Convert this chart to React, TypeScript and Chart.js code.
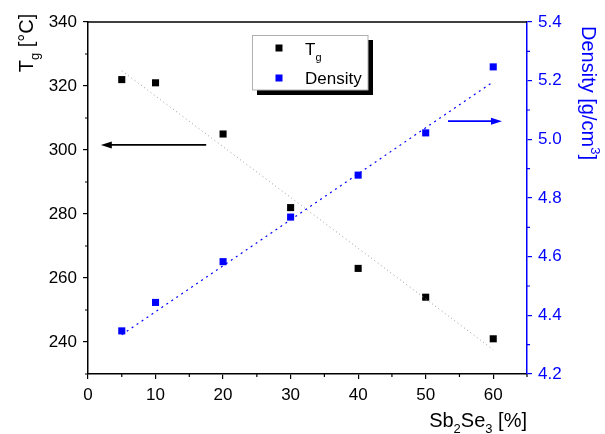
import React, { useEffect, useRef } from "react";
import { Chart, registerables } from "chart.js";

Chart.register(...registerables);

const compositions = [5, 10, 20, 30, 40, 50, 60];
const tgValues = [322, 321, 305, 282, 263, 254, 241];
const densityValues = [4.347, 4.444, 4.583, 4.735, 4.878, 5.022, 5.247];
const fitX = [5, 60];
const tgFit = [324.8, 237.6];
const densityFit = [4.334, 5.196];
const xTicks = [0, 10, 20, 30, 40, 50, 60];
const xMinor = [5, 15, 25, 35, 45, 55, 65];
const tgTicks = [240, 260, 280, 300, 320, 340];
const tgMinor = [230, 250, 270, 290, 310, 330];
const densTicks = [4.2, 4.4, 4.6, 4.8, 5.0, 5.2, 5.4];
const densMinor = [4.3, 4.5, 4.7, 4.9, 5.1, 5.3];
// arrows: [xStart, xTip, y]
const tgArrow = [17.5, 1.9, 301.6];
const densArrow = [53.3, 61.3, 5.062];

const FONT = "'Liberation Sans', Arial, sans-serif";
const BLUE = "#0000ff";

type Seg = { t: string; size: number; dy: number };

function drawRich(ctx: CanvasRenderingContext2D, segs: Seg[], x: number, y: number, align: "left" | "center" | "right", color: string) {
  ctx.save();
  ctx.fillStyle = color;
  ctx.textBaseline = "alphabetic";
  ctx.textAlign = "left";
  let total = 0;
  for (const s of segs) {
    ctx.font = `${s.size}px ${FONT}`;
    total += ctx.measureText(s.t).width;
  }
  let cx = align === "left" ? x : align === "center" ? x - total / 2 : x - total;
  for (const s of segs) {
    ctx.font = `${s.size}px ${FONT}`;
    ctx.fillText(s.t, cx, y + s.dy);
    cx += ctx.measureText(s.t).width;
  }
  ctx.restore();
}

function arrow(ctx: CanvasRenderingContext2D, x1: number, x2: number, y: number, color: string) {
  ctx.save();
  ctx.strokeStyle = color;
  ctx.fillStyle = color;
  ctx.lineWidth = 1.6;
  const dir = Math.sign(x2 - x1);
  const headLen = 11;
  ctx.beginPath();
  ctx.moveTo(x1, y);
  ctx.lineTo(x2 - dir * headLen * 0.8, y);
  ctx.stroke();
  ctx.beginPath();
  ctx.moveTo(x2, y);
  ctx.lineTo(x2 - dir * headLen, y - 3.5);
  ctx.lineTo(x2 - dir * headLen, y + 3.5);
  ctx.closePath();
  ctx.fill();
  ctx.restore();
}

const decorPlugin = {
  id: "decor",
  afterDatasetsDraw(chart: any) {
    const ctx: CanvasRenderingContext2D = chart.ctx;
    const { left, right, top, bottom } = chart.chartArea;
    const xs = chart.scales.x;
    const yl = chart.scales.y;
    const yr = chart.scales.y1;

    // arrows
    arrow(ctx, xs.getPixelForValue(tgArrow[0]), xs.getPixelForValue(tgArrow[1]), yl.getPixelForValue(tgArrow[2]), "#000");
    arrow(ctx, xs.getPixelForValue(densArrow[0]), xs.getPixelForValue(densArrow[1]), yr.getPixelForValue(densArrow[2]), BLUE);

    // top frame line
    ctx.save();
    ctx.strokeStyle = "#000";
    ctx.lineWidth = 1.5;
    ctx.beginPath();
    ctx.moveTo(left, top);
    ctx.lineTo(right, top);
    ctx.stroke();

    // minor ticks
    ctx.lineWidth = 1.2;
    ctx.beginPath();
    for (const v of xMinor) {
      const px = xs.getPixelForValue(v);
      ctx.moveTo(px, bottom);
      ctx.lineTo(px, bottom + 3);
    }
    for (const v of tgMinor) {
      const py = yl.getPixelForValue(v);
      ctx.moveTo(left, py);
      ctx.lineTo(left - 3, py);
    }
    ctx.stroke();
    ctx.strokeStyle = BLUE;
    ctx.beginPath();
    for (const v of densMinor) {
      const py = yr.getPixelForValue(v);
      ctx.moveTo(right, py);
      ctx.lineTo(right + 3, py);
    }
    ctx.stroke();
    ctx.restore();

    // legend box
    ctx.save();
    ctx.fillStyle = "#000";
    ctx.fillRect(257, 90, 116, 5);
    ctx.fillRect(368, 40, 5, 55);
    ctx.fillStyle = "#fff";
    ctx.fillRect(252.5, 35.5, 115.5, 54.5);
    ctx.strokeStyle = "#b0b0b0";
    ctx.lineWidth = 1;
    ctx.strokeRect(252.5, 35.5, 115.5, 54.5);
    ctx.fillStyle = "#000";
    ctx.fillRect(275.5, 44.5, 7, 7);
    ctx.fillStyle = BLUE;
    ctx.fillRect(275.5, 74.5, 7, 7);
    ctx.restore();
    drawRich(ctx, [{ t: "T", size: 17, dy: 0 }, { t: "g", size: 11, dy: 6 }], 305, 55, "left", "#000");
    drawRich(ctx, [{ t: "Density", size: 17, dy: 0 }], 305, 84, "left", "#000");

    // axis titles
    // left
    ctx.save();
    ctx.translate(33, 43);
    ctx.rotate(-Math.PI / 2);
    drawRich(ctx, [
      { t: "T", size: 20, dy: 0 },
      { t: "g", size: 13, dy: 6 },
      { t: " [°C]", size: 20, dy: 0 },
    ], 0, 0, "center", "#000");
    ctx.restore();
    // right
    ctx.save();
    ctx.translate(582, 93);
    ctx.rotate(Math.PI / 2);
    drawRich(ctx, [
      { t: "Density [g/cm", size: 20, dy: 0 },
      { t: "3", size: 13, dy: -9 },
      { t: "]", size: 20, dy: 0 },
    ], 0, 0, "center", BLUE);
    ctx.restore();
    // bottom
    drawRich(ctx, [
      { t: "Sb", size: 20, dy: 0 },
      { t: "2", size: 13, dy: 6 },
      { t: "Se", size: 20, dy: 0 },
      { t: "3", size: 13, dy: 6 },
      { t: " [%]", size: 20, dy: 0 },
    ], 527, 427, "right", "#000");
  },
};

export default function App() {
  const ref = useRef<HTMLCanvasElement | null>(null);
  useEffect(() => {
    document.body.style.margin = "0";
    const canvas = ref.current!;
    const chart = new Chart(canvas, {
      type: "scatter",
      data: {
        datasets: [
          {
            label: "Tg fit",
            type: "line",
            data: fitX.map((x, i) => ({ x, y: tgFit[i] })),
            yAxisID: "y",
            borderColor: "#9a9a9a",
            borderWidth: 1,
            borderDash: [1, 3],
            pointRadius: 0,
            fill: false,
          },
          {
            label: "Density fit",
            type: "line",
            data: fitX.map((x, i) => ({ x, y: densityFit[i] })),
            yAxisID: "y1",
            borderColor: BLUE,
            borderWidth: 1.2,
            borderDash: [2, 4],
            pointRadius: 0,
            fill: false,
          },
          {
            label: "Tg",
            data: compositions.map((x, i) => ({ x, y: tgValues[i] })),
            yAxisID: "y",
            pointStyle: "rect",
            pointRadius: 5,
            pointBorderWidth: 0,
            backgroundColor: "#000",
            borderColor: "#000",
          },
          {
            label: "Density",
            data: compositions.map((x, i) => ({ x, y: densityValues[i] })),
            yAxisID: "y1",
            pointStyle: "rect",
            pointRadius: 5,
            pointBorderWidth: 0,
            backgroundColor: BLUE,
            borderColor: BLUE,
          },
        ],
      },
      options: {
        animation: false,
        responsive: false,
        maintainAspectRatio: false,
        layout: { padding: { top: 22, left: 0, right: 0, bottom: 0 } },
        plugins: { legend: { display: false }, tooltip: { enabled: false }, title: { display: false } },
        scales: {
          x: {
            type: "linear",
            min: 0,
            max: 65,
            afterBuildTicks: (s: any) => { s.ticks = xTicks.map((v) => ({ value: v })); },
            afterFit: (s: any) => { s.height = 60; },
            grid: { drawOnChartArea: false, drawTicks: true, tickLength: 5, color: "#000", lineWidth: 1.2 },
            border: { display: true, color: "#000", width: 1.5 },
            ticks: { color: "#000", font: { family: FONT, size: 17 }, padding: 6, maxRotation: 0, autoSkip: false },
          },
          y: {
            type: "linear",
            position: "left",
            min: 230,
            max: 340,
            afterBuildTicks: (s: any) => { s.ticks = tgTicks.map((v) => ({ value: v })); },
            afterFit: (s: any) => { s.width = 88; },
            grid: { drawOnChartArea: false, drawTicks: true, tickLength: 5, color: "#000", lineWidth: 1.2 },
            border: { display: true, color: "#000", width: 1.5 },
            ticks: { color: "#000", font: { family: FONT, size: 17 }, padding: 6, autoSkip: false },
          },
          y1: {
            type: "linear",
            position: "right",
            min: 4.2,
            max: 5.4,
            afterBuildTicks: (s: any) => { s.ticks = densTicks.map((v) => ({ value: v })); },
            afterFit: (s: any) => { s.width = 78; },
            grid: { drawOnChartArea: false, drawTicks: true, tickLength: 5, color: BLUE, lineWidth: 1.2 },
            border: { display: true, color: BLUE, width: 1.5 },
            ticks: {
              color: BLUE,
              font: { family: FONT, size: 17 },
              padding: 6,
              autoSkip: false,
              callback: (v: any) => Number(v).toFixed(1),
            },
          },
        },
      },
      plugins: [decorPlugin],
    });
    return () => chart.destroy();
  }, []);
  return (
    <div style={{ position: "fixed", left: 0, top: 0, width: 605, height: 434, background: "#fff" }}>
      <canvas ref={ref} width={605} height={434} style={{ width: 605, height: 434, display: "block" }} />
    </div>
  );
}
